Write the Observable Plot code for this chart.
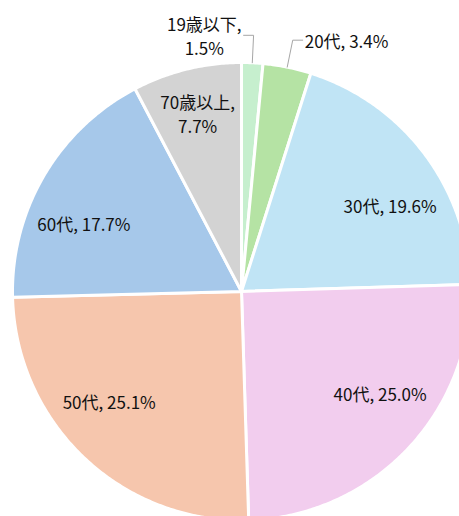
<!DOCTYPE html>
<html><head><meta charset="utf-8">
<script src="https://cdn.jsdelivr.net/npm/d3@7"></script>
<script src="https://cdn.jsdelivr.net/npm/@observablehq/plot@0.6"></script>
<style>html,body{margin:0;padding:0;background:#fff;overflow:hidden}#chart svg{display:block}</style>
</head><body><div id="chart"></div>
<script>
// ---- data ----
const categories = ["19歳以下", "20代", "30代", "40代", "50代", "60代", "70歳以上"];
const shares = [1.5, 3.4, 19.6, 25.0, 25.1, 17.7, 7.7];
const sliceColors = ["#c6efce", "#b5e3a4", "#c0e4f5", "#f2cdee", "#f6c6ad", "#a6c8ea", "#d3d3d3"];

// ---- layout ----
const W = 459, H = 516, cx = 241, cy = 291, R = 229;
const FONT = "Noto Sans CJK JP";
const FS = 17;
const deg = Math.PI / 180;

const total = d3.sum(shares);
let acc = 0;
const slices = categories.map((name, i) => {
  const a0 = acc / total * 2 * Math.PI;
  acc += shares[i];
  const a1 = acc / total * 2 * Math.PI;
  return {name, value: shares[i], a0, a1, mid: (a0 + a1) / 2, i};
});

// slice outlines in unit coordinates (angle clockwise from 12 o'clock)
const pts = [];
for (const s of slices) {
  pts.push({name: s.name, x: 0, y: 0});
  const n = Math.max(2, Math.ceil((s.a1 - s.a0) / (0.5 * deg)));
  for (let k = 0; k <= n; k++) {
    const a = s.a0 + (s.a1 - s.a0) * k / n;
    pts.push({name: s.name, x: Math.sin(a), y: Math.cos(a)});
  }
  pts.push({name: s.name, x: 0, y: 0});
}

// text measuring
const ctx = document.createElement("canvas").getContext("2d");
ctx.font = `${FS}px "${FONT}"`;
const tw = (t) => d3.max(t.split("\n"), l => ctx.measureText(l).width);

const fmt = (s) => s.name.length > 3
  ? `${s.name},\n${s.value.toFixed(1)}%`
  : `${s.name}, ${s.value.toFixed(1)}%`;

const inside = [], outside = [], leaders = [];
for (const s of slices) {
  const text = fmt(s);
  if (s.value >= 5) {
    const multi = text.includes("\n");
    let a = s.mid, r = 0.75;
    if (multi) { r = 0.8; }
    else {
      // nudge wide one-line labels toward the horizontal axis
      const toward = (s.mid < Math.PI) ? Math.PI / 2 : 3 * Math.PI / 2;
      a = s.mid + Math.sign(toward - s.mid) * 7 * deg;
    }
    inside.push({text, x: r * Math.sin(a), y: r * Math.cos(a)});
  } else {
    const side = s.i === 0 ? -1 : 1;
    const p0 = {x: Math.sin(s.mid), y: Math.cos(s.mid)};
    const p1 = {x: 1.12 * Math.sin(s.mid), y: 1.12 * Math.cos(s.mid)};
    const p2 = {x: p1.x + side * 10 / R, y: p1.y};
    leaders.push({name: s.name, ...p0}, {name: s.name, ...p1}, {name: s.name, ...p2});
    const w = tw(text);
    outside.push({text, x: p2.x + side * (2 + w / 2) / R, y: p1.y});
  }
}

const chart = Plot.plot({
  width: W, height: H,
  margin: 0,
  x: {domain: [-cx / R, (W - cx) / R], axis: null},
  y: {domain: [(cy - H) / R, cy / R], axis: null},
  color: {domain: categories, range: sliceColors},
  style: {background: "#fff", overflow: "hidden"},
  marks: [
    Plot.line(pts, {x: "x", y: "y", z: "name", fill: "name", stroke: "#fff", strokeWidth: 3, strokeLinejoin: "round", curve: "linear"}),
    Plot.line(leaders, {x: "x", y: "y", z: "name", stroke: "#a6a6a6", strokeWidth: 1}),
    Plot.text(inside, {x: "x", y: "y", text: "text", fontFamily: FONT, fontSize: FS, fill: "#111", lineHeight: 1.42}),
    Plot.text(outside, {x: "x", y: "y", text: "text", fontFamily: FONT, fontSize: FS, fill: "#111", lineHeight: 1.42})
  ]
});
document.getElementById("chart").appendChild(chart);
</script>
</body></html>
